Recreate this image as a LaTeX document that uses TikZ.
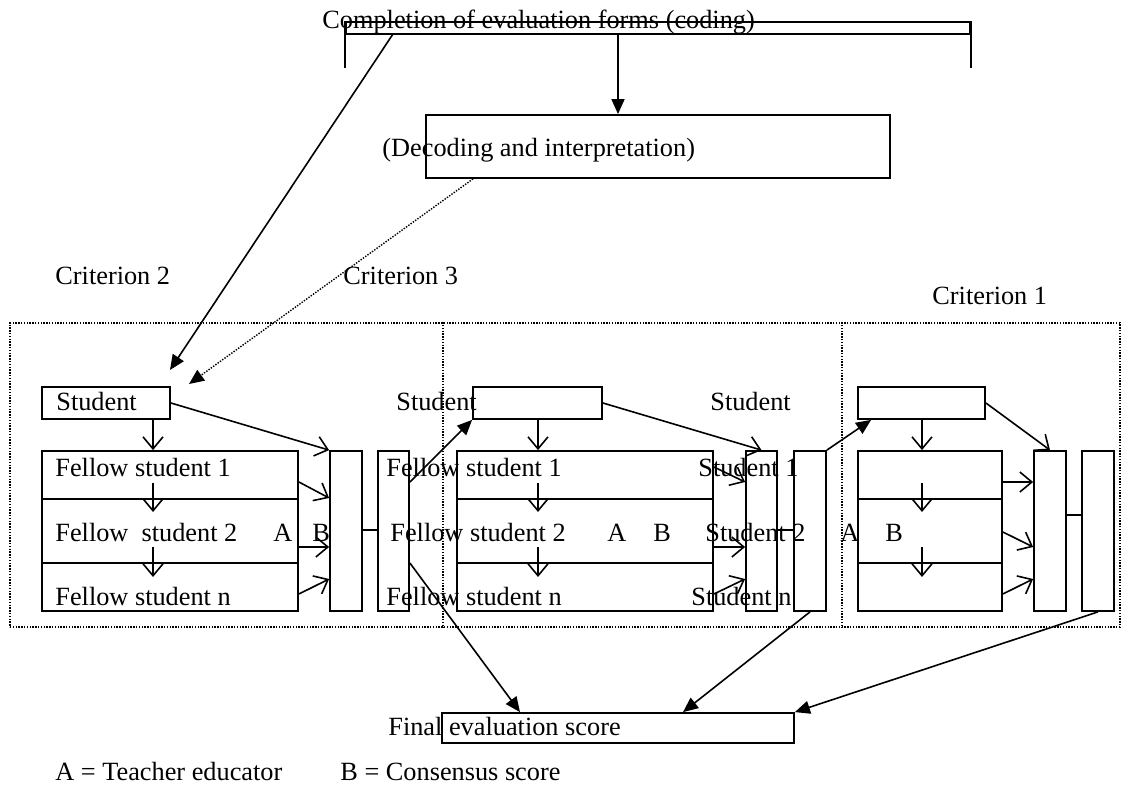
\documentclass[tikz,border=0pt]{standalone}
\usepackage{fontspec}
\setmainfont{Liberation Serif}
\usetikzlibrary{arrows.meta,fit}
\begin{document}
\begin{tikzpicture}[x=0.5pt,y=-0.5pt,
  ln/.style={line width=0.9pt},
  box/.style={draw, line width=0.9pt, inner sep=0pt},
  dotbox/.style={draw, line width=0.7pt, dash pattern=on 0.7pt off 0.7pt, inner sep=0pt},
  dots/.style={line width=0.7pt, dash pattern=on 0.7pt off 0.7pt},
  lbl/.style={anchor=base west, inner sep=0pt, font=\fontsize{13.15pt}{15pt}\selectfont},
  oarr/.style={line width=0.8pt, -{Straight Barb[length=6pt,width=10pt,line width=0.8pt]}},
  farr/.style={line width=0.8pt, -{Triangle[length=7.5pt,width=6.5pt]}}]
\useasboundingbox (0,0) rectangle (1129,801);

% helper coordinates
\coordinate (cx1) at (153,0);
\coordinate (cx2) at (538,0);
\coordinate (cx3) at (922,0);
\coordinate (yr1) at (0,483);
\coordinate (yr1e) at (0,512);
\coordinate (yr2) at (0,547);
\coordinate (yr2e) at (0,577);
\coordinate (ya) at (0,482);
\coordinate (ya2) at (0,498);
\coordinate (ym) at (0,467);
\coordinate (ymb) at (0,532);
\coordinate (yc) at (0,594);
\coordinate (yc2) at (0,579);
\coordinate (yst) at (0,403);
\coordinate (yk) at (0,530);
\coordinate (yk3) at (0,515);
\coordinate (ys2) at (0,563);
\coordinate (fx1) at (520,0);
\coordinate (fx2) at (683,0);
\coordinate (dv1) at (443,0);
\coordinate (dv2) at (842,0);

% top
\node[lbl] (title) at (322,29) {Completion of evaluation forms (coding)};
\node[box, fit={(346,22)(970,34)}] (brk) {};
\draw[ln] (brk.north west) -- ++(0,47);
\draw[ln] (brk.north east) -- ++(0,47);
\node[box, fit={(426,115)(890,178)}] (dec) {};
\node[lbl] (dect) at (382,157) {(Decoding and interpretation)};
\coordinate (a0) at (618,34);
\draw[farr] (a0) -- (a0 |- dec.north);
\coordinate (c1) at (393,34);
\coordinate (c1e) at (170,370);
\draw[farr] (c1) -- (c1e);
\coordinate (dx) at (473,0);
\coordinate (c2e) at (189,384);
\draw[farr, dots] (dec.south -| dx) -- (c2e);

\node[lbl] (cr2) at (55,285) {Criterion 2};
\node[lbl] (cr3) at (343,285) {Criterion 3};
\node[lbl] (cr1) at (932,305) {Criterion 1};

% outer dotted frame
\node[dotbox, fit={(10,323)(1120,627)}] (outer) {};
\draw[dots] (outer.north -| dv1) -- (outer.south -| dv1);
\draw[dots] (outer.north -| dv2) -- (outer.south -| dv2);

% left panel
\node[box, fit={(42,387)(170,419)}] (s1) {};
\node[lbl] (s1t) at (56,411) {Student};
\node[box, fit={(42,451)(298,611)}] (f1) {};
\draw[ln] (f1.west |- 0,499) -- (f1.east |- 0,499);
\draw[ln] (f1.west |- 0,563) -- (f1.east |- 0,563);
\node[lbl] (f1a) at (55,477) {Fellow student 1};
\node[lbl] (f1b) at (55,541) {Fellow~~student 2};
\node[lbl] (f1A) at (273,541) {A};
\node[lbl] (f1B) at (312,541) {B};
\node[lbl] (f1c) at (55,605) {Fellow student n};
\node[box, fit={(330,451)(362,611)}] (b1) {};
\node[box, fit={(378,451)(409,611)}] (b2) {};
\draw[oarr] (s1.south -| cx1) -- (f1.north -| cx1);
\draw[oarr] (cx1 |- yr1) -- (cx1 |- yr1e);
\draw[oarr] (cx1 |- yr2) -- (cx1 |- yr2e);
\draw[oarr] (s1.east |- yst) -- (b1.north west);
\draw[oarr] (f1.east |- ya) -- (b1.west |- ya2);
\draw[oarr] (f1.east |- yr2) -- (b1.west |- yr2);
\draw[oarr] (f1.east |- yc) -- (b1.west |- yc2);
\draw[ln] (b1.east |- yk) -- (b2.west |- yk);

% middle panel
\node[lbl] (s2l) at (396,411) {Student};
\node[box, fit={(473,387)(602,419)}] (s2) {};
\node[box, fit={(457,451)(713,611)}] (f2) {};
\draw[ln] (f2.west |- 0,499) -- (f2.east |- 0,499);
\draw[ln] (f2.west |- 0,563) -- (f2.east |- 0,563);
\node[lbl] (f2a) at (386,477) {Fellow student 1};
\node[lbl] (f2b) at (390,541) {Fellow student 2};
\node[lbl] (f2A) at (607,541) {A};
\node[lbl] (f2B) at (653,541) {B};
\node[lbl] (f2c) at (386,605) {Fellow student n};
\node[lbl] (st1) at (698,477) {Student 1};
\node[lbl] (st2) at (705,541) {Student 2};
\node[lbl] (stn) at (691,605) {Student n};
\node[lbl] (s2r) at (710,411) {Student};
\node[box, fit={(746,451)(777,611)}] (b3) {};
\node[box, fit={(794,451)(826,611)}] (b4) {};
\draw[oarr] (s2.south -| cx2) -- (f2.north -| cx2);
\draw[oarr] (cx2 |- yr1) -- (cx2 |- yr1e);
\draw[oarr] (cx2 |- yr2) -- (cx2 |- yr2e);
\draw[oarr] (s2.east |- yst) -- (b3.north);
\draw[oarr] (f2.east |- ym) -- (b3.west |- ya);
\draw[oarr] (f2.east |- yr2) -- (b3.west |- yr2);
\draw[oarr] (f2.east |- yc) -- (b3.west |- yc2);
\draw[ln] (b3.east |- yk) -- (b4.west |- yk);
\draw[farr] (b2.east |- ya) -- (s2.south west);

% right panel
\node[box, fit={(858,387)(985,419)}] (s3) {};
\node[box, fit={(858,451)(1002,611)}] (f3) {};
\draw[ln] (f3.west |- 0,499) -- (f3.east |- 0,499);
\draw[ln] (f3.west |- 0,563) -- (f3.east |- 0,563);
\node[lbl] (f3A) at (840,541) {A};
\node[lbl] (f3B) at (885,541) {B};
\node[box, fit={(1034,451)(1066,611)}] (b5) {};
\node[box, fit={(1082,451)(1114,611)}] (b6) {};
\draw[oarr] (s3.south -| cx3) -- (f3.north -| cx3);
\draw[oarr] (cx3 |- yr1) -- (cx3 |- yr1e);
\draw[oarr] (cx3 |- yr2) -- (cx3 |- yr2e);
\draw[oarr] (s3.east |- yst) -- (b5.north);
\draw[oarr] (f3.east |- ya) -- (b5.west |- ya);
\draw[oarr] (f3.east |- ymb) -- (b5.west |- yr2);
\draw[oarr] (f3.east |- yc) -- (b5.west |- yc2);
\draw[ln] (b5.east |- yk3) -- (b6.west |- yk3);
\draw[farr] (b4.north east) -- ([xshift=7pt]s3.south west);

% final
\node[box, fit={(442,713)(794,743)}] (fin) {};
\node[lbl] (fint) at (388,735) {Final evaluation score};
\draw[farr] (b2.east |- ys2) -- (fin.north -| fx1);
\draw[farr] (b4.south) -- (fin.north -| fx2);
\draw[farr] (b6.south) -- (fin.north east);

% legend
\node[lbl] (legA) at (55,780) {A = Teacher educator};
\node[lbl] (legB) at (340,780) {B = Consensus score};
\end{tikzpicture}
\end{document}
